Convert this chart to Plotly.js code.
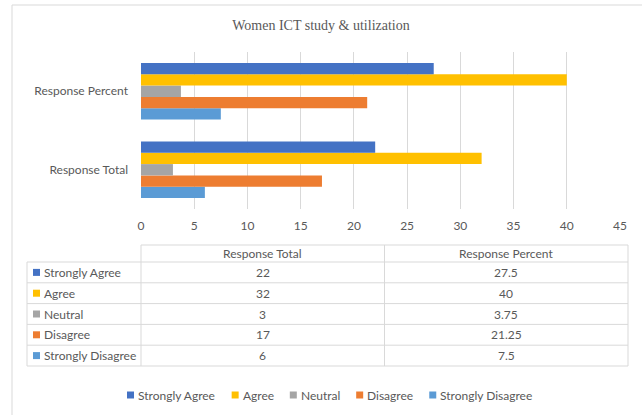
<!DOCTYPE html>
<html>
<head>
<meta charset="utf-8">
<script src="https://cdn.plot.ly/plotly-3.0.1.min.js"></script>
<style>
  body { margin: 0; background: #fff; }
  #myPlot { width: 642px; height: 415px; }
</style>
</head>
<body>
<div id="myPlot"></div>
<script>
// data
var categories = ['Response Total', 'Response Percent'];
var levels = ['Strongly Agree', 'Agree', 'Neutral', 'Disagree', 'Strongly Disagree'];
var responseTotal = [22, 32, 3, 17, 6];
var responsePercent = [27.5, 40, 3.75, 21.25, 7.5];
var levelColors = ['#4472C4', '#FFC000', '#A5A5A5', '#ED7D31', '#5B9BD5'];
var xTicks = [0, 5, 10, 15, 20, 25, 30, 35, 40, 45];

var FONT = 'Lato, "Liberation Sans", sans-serif';
var TXT = '#595959';
var LINE = '#D9D9D9';

// plot area in pixels
var plotL = 141, plotR = 620, plotT = 52, plotB = 209;
function px(x) { return (x - plotL) / (plotR - plotL); }
function py(y) { return (plotB - y) / (plotB - plotT); }

// bars - added in reverse so "Strongly Agree" sits on top of each group
var data = [];
for (var i = levels.length - 1; i >= 0; i--) {
  data.push({
    type: 'bar',
    orientation: 'h',
    name: levels[i],
    y: categories,
    x: [responseTotal[i], responsePercent[i]],
    marker: { color: levelColors[i] },
    hoverinfo: 'x+name'
  });
}

var shapes = [];
var annotations = [];

function hline(y, x0, x1) {
  shapes.push({ type: 'line', xref: 'paper', yref: 'paper', x0: px(x0), x1: px(x1), y0: py(y), y1: py(y), line: { color: LINE, width: 1 } });
}
function vline(x, y0, y1) {
  shapes.push({ type: 'line', xref: 'paper', yref: 'paper', x0: px(x), x1: px(x), y0: py(y0), y1: py(y1), line: { color: LINE, width: 1 } });
}
function square(x, yc, color) {
  shapes.push({ type: 'rect', xref: 'paper', yref: 'paper', x0: px(x), x1: px(x + 7), y0: py(yc - 3.5), y1: py(yc + 3.5), fillcolor: color, line: { width: 0 } });
}
function label(text, x, y, align) {
  annotations.push({ xref: 'paper', yref: 'paper', x: px(x), y: py(y), text: text, showarrow: false,
    xanchor: align, yanchor: 'middle', font: { family: FONT, size: 12, color: TXT } });
}

// chart border
shapes.push({ type: 'rect', xref: 'paper', yref: 'paper', x0: px(12), x1: px(700), y0: py(5), y1: py(460), line: { color: LINE, width: 1 } });

// data table under the chart
var tblL = 27, col1 = 141, col2 = 384.5, tblR = 628;
var headT = 245, headB = 262, rowH = 20.8;
var tblB = headB + rowH * levels.length;
hline(headT, col1, tblR);
for (var r = 0; r <= levels.length; r++) hline(headB + r * rowH, tblL, tblR);
vline(tblL, headB, tblB);
vline(col1, headT, tblB);
vline(col2, headT, tblB);
vline(tblR, headT, tblB);

var colMid = [(col1 + col2) / 2, (col2 + tblR) / 2];
label(categories[0], colMid[0], (headT + headB) / 2, 'center');
label(categories[1], colMid[1], (headT + headB) / 2, 'center');
for (var k = 0; k < levels.length; k++) {
  var yc = headB + rowH * k + rowH / 2;
  square(33, yc, levelColors[k]);
  label(levels[k], 42, yc, 'left');
  label(String(responseTotal[k]), colMid[0], yc, 'center');
  label(String(responsePercent[k]), colMid[1], yc, 'center');
}

// legend along the bottom, spaced by measured text width
var ctx = document.createElement('canvas').getContext('2d');
ctx.font = '12px ' + FONT;
var lx = 127, ly = 395;
for (var m = 0; m < levels.length; m++) {
  square(lx, ly, levelColors[m]);
  label(levels[m], lx + 9, ly, 'left');
  lx += 10 + ctx.measureText(levels[m]).width + 17;
}

var layout = {
  width: 642,
  height: 415,
  margin: { l: plotL, r: 642 - plotR, t: plotT, b: 415 - plotB, pad: 0 },
  paper_bgcolor: '#fff',
  plot_bgcolor: '#fff',
  showlegend: false,
  barmode: 'group',
  bargap: 0.28,
  bargroupgap: 0,
  title: {
    text: 'Women ICT study &amp; utilization',
    x: 321 / 642, xref: 'container', xanchor: 'center',
    y: 1 - 25 / 415, yref: 'container', yanchor: 'middle',
    font: { family: '"Liberation Serif", "Times New Roman", serif', size: 14, color: TXT }
  },
  xaxis: {
    range: [0, 45],
    tickvals: xTicks,
    showgrid: true,
    gridcolor: LINE,
    zeroline: false,
    showline: false,
    ticks: '',
    ticklabelstandoff: 8,
    tickfont: { family: FONT, size: 12, color: TXT },
    fixedrange: true
  },
  yaxis: {
    type: 'category',
    categoryorder: 'array',
    categoryarray: categories,
    showgrid: false,
    zeroline: false,
    showline: false,
    ticks: '',
    ticklabelstandoff: 12,
    tickfont: { family: FONT, size: 12, color: TXT },
    fixedrange: true
  },
  shapes: shapes,
  annotations: annotations
};

Plotly.newPlot('myPlot', data, layout, { displayModeBar: false, staticPlot: true });
</script>
</body>
</html>
